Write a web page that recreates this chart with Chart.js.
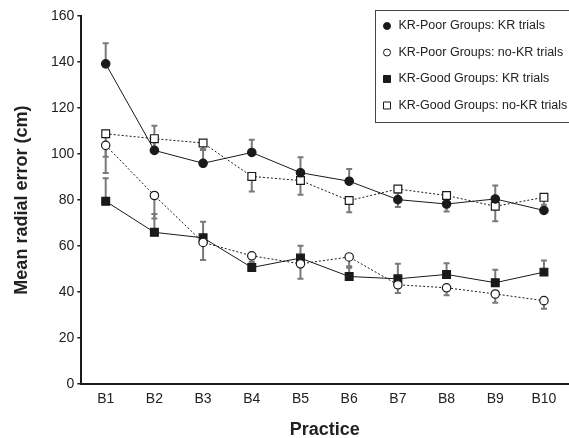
<!DOCTYPE html>
<html>
<head>
<meta charset="utf-8">
<script src="https://cdn.jsdelivr.net/npm/chart.js@4"></script>
<style>
  html,body{margin:0;padding:0;background:#fff;overflow:hidden;}
  #wrap{width:575px;height:438px;}
</style>
</head>
<body>
<div id="wrap"><canvas id="c"></canvas></div>
<script>
const blocks = ['B1','B2','B3','B4','B5','B6','B7','B8','B9','B10'];

// KR-Poor groups
const poorKR      = [139.2, 101.6, 96.0, 100.7, 91.9, 88.2, 80.2, 78.3, 80.5, 75.5];
const poorKRErr   = [9.0, 10.7, 6.2, 5.5, 6.7, 5.3, 3.0, 3.0, 5.8, 2.5];
const poorNoKR    = [103.8, 82.0, 61.6, 55.8, 52.3, 55.3, 43.2, 41.9, 39.2, 36.3];
const poorNoKRErr = [12.0, 10.0, 7.6, 3.0, 6.5, 4.0, 3.6, 3.3, 3.8, 3.5];

// KR-Good groups
const goodKR      = [79.5, 66.0, 63.6, 50.7, 54.8, 46.8, 45.8, 47.7, 44.1, 48.7];
const goodKRErr   = [10.0, 8.0, 7.0, 2.5, 5.4, 3.8, 6.5, 4.9, 5.6, 5.1];
const goodNoKR    = [108.8, 106.7, 104.8, 90.3, 88.5, 79.8, 84.8, 82.0, 77.3, 81.2];
const goodNoKRErr = [10.0, 4.0, 3.0, 6.6, 6.2, 5.1, 7.8, 7.0, 6.5, 5.0];

const ink = '#1a1a1a';
const FONT = "'Liberation Sans', Arial, sans-serif";

// error bars: KR trials point up, no-KR trials point down
const errorBars = {
  id:'errorBars',
  beforeDatasetsDraw(chart){
    const {ctx, scales:{y}} = chart;
    ctx.save();
    ctx.strokeStyle = '#7a7a7a';
    ctx.lineWidth = 2;
    chart.data.datasets.forEach((ds,di)=>{
      const meta = chart.getDatasetMeta(di);
      meta.data.forEach((pt,i)=>{
        const v = ds.data[i], e = ds.err[i];
        const y0 = y.getPixelForValue(v);
        const y1 = y.getPixelForValue(v + ds.dir*e);
        ctx.beginPath();
        ctx.moveTo(pt.x, y0); ctx.lineTo(pt.x, y1);
        ctx.moveTo(pt.x-3, y1); ctx.lineTo(pt.x+3, y1);
        ctx.stroke();
      });
    });
    ctx.restore();
  }
};

// legend box in upper right, clipped by the window edge like the original
const boxLegend = {
  id:'boxLegend',
  afterDraw(chart){
    const ctx = chart.ctx;
    const x0 = 375, y0 = 10, w = 210, h = 112;
    ctx.save();
    ctx.fillStyle = '#fff';
    ctx.fillRect(x0, y0, w, h);
    ctx.strokeStyle = '#444';
    ctx.lineWidth = 1;
    ctx.strokeRect(x0+0.5, y0+0.5, w, h);
    ctx.font = '12.5px ' + FONT;
    ctx.textBaseline = 'middle';
    chart.data.datasets.forEach((ds,i)=>{
      const cy = 26 + i*26.5;
      const cx = 387;
      ctx.beginPath();
      if (ds.pointStyle === 'rect') ctx.rect(cx-3.5, cy-3.5, 7, 7);
      else ctx.arc(cx, cy, 3.5, 0, Math.PI*2);
      ctx.fillStyle = ds.pointBackgroundColor;
      ctx.fill();
      ctx.strokeStyle = ink;
      ctx.lineWidth = 1;
      ctx.stroke();
      ctx.fillStyle = '#222';
      ctx.fillText(ds.label, 398.5, cy);
    });
    ctx.restore();
  }
};

function series(label, data, err, dir, filled, style, dashed){
  return {
    label, data, err, dir,
    borderColor: ink,
    borderWidth: 1,
    borderDash: dashed ? [2,2] : [],
    pointStyle: style,
    pointRadius: style === 'rect' ? 5.5 : 4.2,
    pointBorderWidth: 1.2,
    pointBorderColor: ink,
    pointBackgroundColor: filled ? ink : '#fff',
    tension: 0
  };
}

new Chart(document.getElementById('c'), {
  type:'line',
  data:{
    labels: blocks,
    datasets:[
      series('KR-Poor Groups: KR trials', poorKR, poorKRErr, 1, true, 'circle', false),
      series('KR-Poor Groups: no-KR trials', poorNoKR, poorNoKRErr, -1, false, 'circle', true),
      series('KR-Good Groups: KR trials', goodKR, goodKRErr, 1, true, 'rect', false),
      series('KR-Good Groups: no-KR trials', goodNoKR, goodNoKRErr, -1, false, 'rect', true)
    ]
  },
  options:{
    responsive:true,
    maintainAspectRatio:false,
    animation:false,
    layout:{padding:{top:16, right:0, left:2, bottom:0}},
    plugins:{legend:{display:false}, tooltip:{enabled:false}},
    scales:{
      x:{
        offset:true,
        grid:{display:false, tickLength:0},
        border:{color:ink, width:2},
        ticks:{color:'#222', font:{family:FONT, size:14}, padding:7},
        title:{display:true, text:'Practice', color:'#222', font:{family:FONT, size:18, weight:'bold', lineHeight:1}, padding:{top:6, bottom:-1}}
      },
      y:{
        min:0, max:160,
        ticks:{stepSize:20, color:'#222', font:{family:FONT, size:14}, padding:3},
        grid:{drawOnChartArea:false, tickLength:4, color:ink, lineWidth:1.5},
        border:{color:ink, width:2},
        title:{display:true, text:'Mean radial error (cm)', color:'#222', font:{family:FONT, size:18, weight:'bold', lineHeight:1}, padding:{top:11.5, bottom:16.5}}
      }
    }
  },
  plugins:[errorBars, boxLegend]
});
</script>
</body>
</html>
